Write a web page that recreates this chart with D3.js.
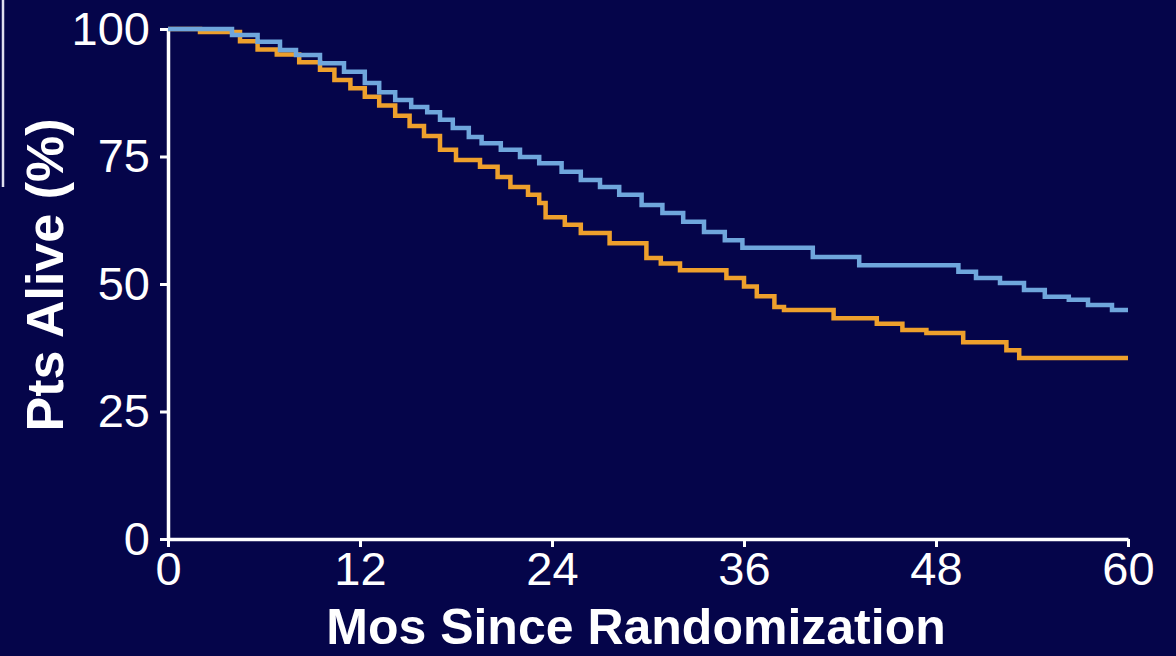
<!DOCTYPE html>
<html>
<head>
<meta charset="utf-8">
<script src="https://cdn.jsdelivr.net/npm/d3@7"></script>
<style>
  html, body { margin: 0; padding: 0; background: #05054a; }
  svg { display: block; }
  text { font-family: "Liberation Sans", Arial, sans-serif; fill: #fff; }
</style>
</head>
<body>
<svg id="chart" width="1176" height="656"></svg>
<script>
// Survival curves (months, % alive)
const blueMonths = [0, 4.0, 5.6, 7.0, 8.0, 9.5, 11.0, 12.3, 13.2, 14.2, 15.2, 16.2, 17.0, 17.8, 18.8, 19.6, 20.8, 22.0, 23.2, 24.6, 25.8, 27.0, 28.2, 29.6, 30.9, 32.2, 33.5, 34.8, 35.9, 40.3, 43.2, 49.4, 50.5, 52.0, 53.5, 54.8, 56.3, 57.5, 59.0, 60];
const bluePct    = [100, 98.8, 97.5, 95.9, 94.9, 93.3, 91.6, 89.4, 87.6, 86.1, 84.7, 83.7, 82.2, 80.6, 78.8, 77.6, 76.3, 74.9, 73.7, 72.0, 70.4, 69.0, 67.5, 65.5, 63.9, 62.2, 60.2, 58.6, 57.1, 55.3, 53.7, 52.4, 51.2, 50.2, 48.8, 47.5, 46.9, 45.9, 44.9, 44.9];

const orangeMonths = [0, 2.0, 4.5, 5.6, 6.8, 8.2, 9.5, 10.4, 11.4, 12.3, 13.2, 14.2, 15.1, 16.0, 17.0, 18.0, 19.5, 20.6, 21.4, 22.5, 23.2, 23.6, 24.8, 25.8, 27.6, 29.9, 30.8, 32.0, 34.9, 36.0, 36.8, 37.9, 38.5, 41.6, 44.3, 45.9, 47.4, 49.7, 52.4, 53.2, 60];
const orangePct    = [100, 99.4, 97.6, 96.0, 95.0, 93.5, 92.0, 90.0, 88.4, 86.7, 85.0, 83.0, 81.0, 79.0, 76.3, 74.3, 73.0, 71.0, 69.0, 67.5, 65.9, 63.1, 61.6, 60.0, 58.0, 55.1, 54.0, 52.7, 51.2, 49.5, 47.6, 45.5, 44.9, 43.3, 42.2, 41.0, 40.4, 38.6, 37.0, 35.5, 35.5];

const xTicks = [0, 12, 24, 36, 48, 60];
const yTicks = [0, 25, 50, 75, 100];

const bg_color = '#05054a';
const blue_color = '#6fa6dc';
const orange_color = '#eea02c';

const width = 1176, height = 656;
const margin = {top: 29, right: 48, bottom: 117, left: 168};

const svg = d3.select("#chart");

svg.append("rect")
    .attr("width", width)
    .attr("height", height)
    .attr("fill", bg_color);

// thin light edge on the left, part of the original slide crop
svg.append("line")
    .attr("x1", 3).attr("x2", 3)
    .attr("y1", 0).attr("y2", 187)
    .attr("stroke", "#e0e0ee")
    .attr("stroke-width", 2.5);

const x = d3.scaleLinear().domain([0, 60]).range([margin.left, width - margin.right]);
const y = d3.scaleLinear().domain([0, 100]).range([height - margin.bottom, margin.top]);

// Axes
const xAxis = svg.append("g")
    .attr("transform", `translate(0,${y(0)})`)
    .call(d3.axisBottom(x).tickValues(xTicks).tickSize(8).tickSizeOuter(0).tickPadding(5));

const yAxis = svg.append("g")
    .attr("transform", `translate(${x(0)},0)`)
    .call(d3.axisLeft(y).tickValues(yTicks).tickSize(8).tickSizeOuter(0).tickPadding(10));

[xAxis, yAxis].forEach(g => {
    g.selectAll(".domain").attr("stroke", "#fff").attr("stroke-width", 3.5);
    g.selectAll(".tick line").attr("stroke", "#fff").attr("stroke-width", 3);
    g.selectAll(".tick text")
        .attr("fill", "#fff")
        .style("font-family", "'Liberation Sans', Arial, sans-serif")
        .style("font-size", "47px");
});

// Curves
const line = d3.line()
    .x(d => x(d[0]))
    .y(d => y(d[1]))
    .curve(d3.curveStepAfter);

const series = [
    {months: orangeMonths, pct: orangePct, color: orange_color},
    {months: blueMonths, pct: bluePct, color: blue_color}
];

series.forEach(s => {
    svg.append("path")
        .datum(s.months.map((m, i) => [m, s.pct[i]]))
        .attr("d", line)
        .attr("fill", "none")
        .attr("stroke", s.color)
        .attr("stroke-width", 4.5);
});

// Axis titles
svg.append("text")
    .attr("x", 636)
    .attr("y", 644)
    .attr("text-anchor", "middle")
    .style("font-size", "50px")
    .style("font-weight", "bold")
    .text("Mos Since Randomization");

svg.append("text")
    .attr("transform", `translate(63,275) rotate(-90)`)
    .attr("text-anchor", "middle")
    .style("font-size", "52px")
    .style("font-weight", "bold")
    .text("Pts Alive (%)");
</script>
</body>
</html>
